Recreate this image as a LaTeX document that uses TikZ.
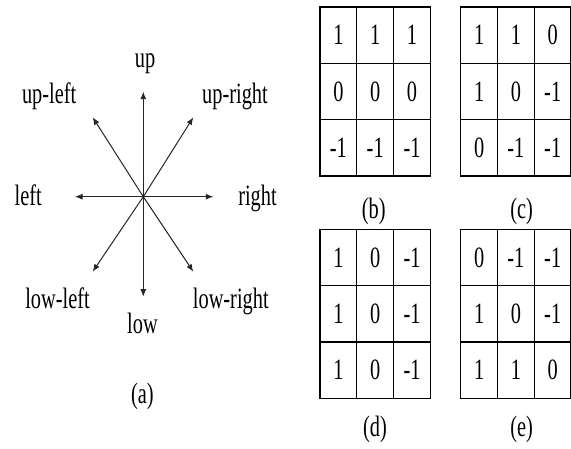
\documentclass[tikz,border=0pt]{standalone}
\usepackage{fontspec}
\setmainfont{Liberation Serif}[FakeStretch=0.69]
\usetikzlibrary{arrows.meta,positioning,calc}
\tikzset{dirpanel/.style={
  x=1pt, y=-1pt,
  font=\fontsize{29.5}{33}\selectfont,
  dirlab/.style={anchor=base, inner sep=0pt},
  ray/.style={-{Latex[length=7.5pt,width=6pt]}, line width=1pt, black!85},
  cell/.style={draw, line width=1.3pt, minimum width=36.8pt, minimum height=56.3pt, inner sep=0pt},
  sublab/.style={anchor=base, inner sep=0pt},
}}
% one 3x3 kernel: name, left x, top y, nine values row by row
\newcommand{\kernelgrid}[4]{%
  \foreach \v [count=\k from 0] in {#4}{
    \pgfmathtruncatemacro\cc{mod(\k,3)}
    \pgfmathtruncatemacro\rr{div(\k,3)}
    \node[cell] (#1-\k) at ({#2+18.4+\cc*36.8},{#3+28.15+\rr*56.3}) {\v};
  }%
}

\begin{document}
\begin{tikzpicture}[dirpanel]
\useasboundingbox (0,0) rectangle (571,448);

% ---- (a): eight directions ----
\coordinate (O)  at (143.3,196.7);
\coordinate (U)  at (143.3,91.7);
\coordinate (D)  at (143.3,296.7);
\coordinate (L)  at (75,196.7);
\coordinate (R)  at (213.3,196.7);
\coordinate (UL) at (92.7,117.3);
\coordinate (UR) at (193.3,117.3);
\coordinate (DL) at (92.7,271.7);
\coordinate (DR) at (193.3,271.7);
\foreach \t in {U,D,L,R,UL,UR,DL,DR}{
  \draw[ray] (O) -- (\t);
}
\node[dirlab] (labU)  at (145,67.3)    {up};
\node[dirlab] (labUL) at (49.2,103.3)  {up-left};
\node[dirlab] (labUR) at (235,103.3)   {up-right};
\node[dirlab] (labL)  at (28.3,205.7)  {left};
\node[dirlab] (labR)  at (257.5,205.7) {right};
\node[dirlab] (labDL) at (57.5,308.3)  {low-left};
\node[dirlab] (labDR) at (230.8,308.3) {low-right};
\node[dirlab] (labD)  at (142.5,333.3) {low};
\node[sublab] (capA)  at (142.3,403.3) {(a)};

% ---- (b)--(e): kernels ----
\kernelgrid{kb}{320}{7}{1,1,1,0,0,0,-1,-1,-1}
\kernelgrid{kc}{460.7}{7}{1,1,0,1,0,-1,0,-1,-1}
\kernelgrid{kd}{320}{229.3}{1,0,-1,1,0,-1,1,0,-1}
\kernelgrid{ke}{460.7}{229.3}{0,-1,-1,1,0,-1,1,1,0}
\node[sublab] (capB) at (373.8,218.3) {(b)};
\node[sublab] (capC) at (521.7,218.3) {(c)};
\node[sublab] (capD) at (375,436.7)   {(d)};
\node[sublab] (capE) at (521.7,436.7) {(e)};
\end{tikzpicture}
\end{document}
